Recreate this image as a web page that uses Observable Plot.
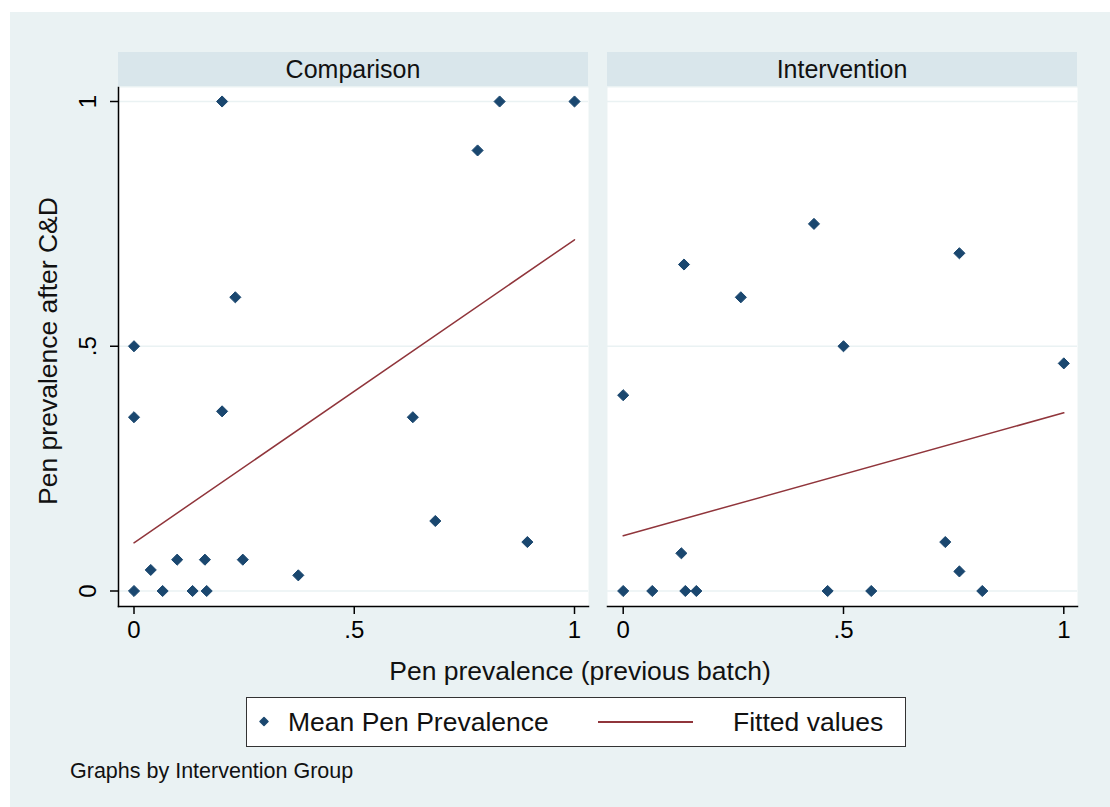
<!DOCTYPE html>
<html>
<head>
<meta charset="utf-8">
<script src="https://cdn.jsdelivr.net/npm/d3@7"></script>
<script src="https://cdn.jsdelivr.net/npm/@observablehq/plot@0.6"></script>
<style>
  html, body { margin: 0; padding: 0; background: #ffffff; }
  body { font-family: "Liberation Sans", Arial, sans-serif; color: #000; }
  #root { position: relative; width: 1110px; height: 807px; overflow: hidden; background: #ffffff; }
  #bg { position: absolute; left: 10px; top: 12px; right: 0; bottom: 0; background: #eaf2f3; }
  .panel { position: absolute; top: 0; }
  .strip { position: absolute; top: 52px; height: 34px; background: #d9e6eb; font-size: 25px; line-height: 34px; text-align: center; color: #111; }
  .txt { position: absolute; white-space: nowrap; color: #111; }
  #legend { position: absolute; left: 246px; top: 697px; width: 658px; height: 48px; border: 1.5px solid #333; background: #fff; }
</style>
</head>
<body>
<div id="root">
  <div id="bg"></div>
  <div id="leftPanel" class="panel" style="left:0px;"></div>
  <div id="rightPanel" class="panel" style="left:590px;"></div>
  <div class="strip" id="stripL" style="left:118px; width:470px;"></div>
  <div class="strip" id="stripR" style="left:607px; width:470px;"></div>
  <div class="txt" id="xlabel" style="left:0; width:1160px; top:656px; text-align:center; font-size:26.5px;"></div>
  <div id="legend">
    <svg style="position:absolute; left:0; top:0;" width="658" height="48">
      <path id="legMark" d="M17,19.5 L21,23.5 L17,27.5 L13,23.5 Z" fill="#1a476f" stroke="#1a476f" stroke-width="1.5" stroke-linejoin="round"></path>
      <line x1="351" x2="446" y1="24" y2="24" stroke="#90353b" stroke-width="2"></line>
    </svg>
    <div class="txt" id="leg1" style="left:41px; top:9px; font-size:26.5px;"></div>
    <div class="txt" id="leg2" style="left:486px; top:9px; font-size:26.5px;"></div>
  </div>
  <div class="txt" id="caption" style="left:70px; top:759px; font-size:21.5px;"></div>
</div>
<script>
// ---- Data ----
const panels = ["Comparison", "Intervention"];

// Comparison group: previous-batch prevalence (x) vs prevalence after C&D (y)
const compX = [0.20, 0.83, 1.00, 0.78, 0.23, 0.00, 0.00, 0.20, 0.633, 0.684, 0.893, 0.038, 0.098, 0.161, 0.247, 0.373, 0.00, 0.065, 0.133, 0.165];
const compY = [1.00, 1.00, 1.00, 0.90, 0.60, 0.50, 0.355, 0.367, 0.355, 0.143, 0.10, 0.043, 0.064, 0.064, 0.064, 0.032, 0.00, 0.00, 0.00, 0.00];

// Intervention group
const intX = [0.433, 0.138, 0.267, 0.763, 0.50, 1.00, 0.00, 0.132, 0.731, 0.763, 0.00, 0.066, 0.141, 0.166, 0.464, 0.563, 0.815];
const intY = [0.75, 0.667, 0.60, 0.69, 0.50, 0.465, 0.40, 0.077, 0.10, 0.04, 0.00, 0.00, 0.00, 0.00, 0.00, 0.00, 0.00];

// Fitted values (linear fit endpoints)
const fitX = [0, 1];
const fitComp = [0.0985, 0.7175];
const fitInt = [0.113, 0.364];

// Ticks
const tickValues = [0, 0.5, 1];
const tickLabels = ["0", ".5", "1"];

// Text
const xTitle = "Pen prevalence (previous batch)";
const yTitle = "Pen prevalence after C&D";
const legendLabels = ["Mean Pen Prevalence", "Fitted values"];
const captionText = "Graphs by Intervention Group";

// ---- Styling ----
const navy = "#1a476f";
const maroon = "#90353b";
const gridColor = "#eaf2f3";
const fmt = d => tickLabels[tickValues.indexOf(d)];

function panel({xs, ys, fit, width, marginLeft, marginRight, insetL, insetR, showY}) {
  const pts = xs.map((x, i) => ({x, y: ys[i]}));
  const line = fitX.map((x, i) => ({x, y: fit[i]}));
  const marks = [
    Plot.frame({fill: "white"}),
    Plot.gridY(tickValues, {stroke: gridColor, strokeOpacity: 1, strokeWidth: 1.5}),
    Plot.line(line, {x: "x", y: "y", stroke: maroon, strokeWidth: 1.5}),
    Plot.dot(pts, {x: "x", y: "y", symbol: "diamond2", r: 5, fill: navy, stroke: navy, strokeWidth: 1}),
    Plot.axisX(tickValues, {tickFormat: fmt, tickSize: 8, tickPadding: 6, fontSize: 24, label: null, stroke: "#000", strokeWidth: 1.5}),
    Plot.frame({anchor: "bottom", stroke: "#000", strokeWidth: 1.5})
  ];
  if (showY) {
    marks.push(
      Plot.axisY(tickValues, {tickFormat: fmt, tickSize: 8, tickPadding: 15, tickRotate: -90, fontSize: 24, label: null, stroke: "#000", strokeWidth: 1.5}),
      Plot.frame({anchor: "left", stroke: "#000", strokeWidth: 1.5}),
      Plot.text([yTitle], {frameAnchor: "left", rotate: -90, textAnchor: "middle", dx: -70, dy: 4, fontSize: 26.5, fill: "#111", text: d => d})
    );
  }
  return Plot.plot({
    width, height: 660,
    marginLeft, marginRight, marginTop: 87, marginBottom: 54,
    style: {background: "transparent", fontFamily: "'Liberation Sans', Arial, sans-serif", color: "#000", overflow: "visible"},
    x: {domain: [0, 1], insetLeft: insetL, insetRight: insetR, axis: null},
    y: {domain: [0, 1], insetTop: 14, insetBottom: 15.5, axis: null},
    marks
  });
}

document.getElementById("leftPanel").append(panel({
  xs: compX, ys: compY, fit: fitComp, width: 600, marginLeft: 118, marginRight: 12, insetL: 15.5, insetR: 14, showY: true
}));
document.getElementById("rightPanel").append(panel({
  xs: intX, ys: intY, fit: fitInt, width: 500, marginLeft: 17, marginRight: 13, insetL: 15.7, insetR: 13.7, showY: false
}));

document.getElementById("stripL").textContent = panels[0];
document.getElementById("stripR").textContent = panels[1];
document.getElementById("xlabel").textContent = xTitle;
document.getElementById("leg1").textContent = legendLabels[0];
document.getElementById("leg2").textContent = legendLabels[1];
document.getElementById("caption").textContent = captionText;
</script>
</body>
</html>
